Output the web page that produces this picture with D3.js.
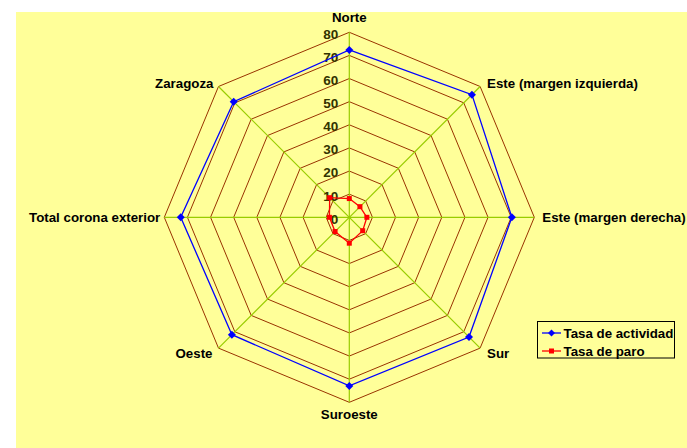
<!DOCTYPE html>
<html><head><meta charset="utf-8">
<script src="https://cdn.jsdelivr.net/npm/d3@7"></script>
<style>body{margin:0;background:#fff}svg{display:block}</style>
</head><body>
<svg id="c" width="687" height="448"></svg>
<script>
const categories = ["Norte","Este (margen izquierda)","Este (margen derecha)","Sur","Suroeste","Oeste","Total corona exterior","Zaragoza"];
const actividad = [72.4, 75.0, 70.3, 73.2, 72.9, 71.8, 72.9, 70.7];
const paro = [8.1, 6.5, 7.6, 8.2, 11.2, 8.7, 8.6, 12.0];
const tickValues = [0,10,20,30,40,50,60,70,80];
const seriesNames = ["Tasa de actividad","Tasa de paro"];

const svg = d3.select("#c");
const W = 687, H = 448;
svg.append("rect").attr("x",16).attr("y",12).attr("width",W-16).attr("height",H-12).attr("fill","#FFFF99");

const cx = 349.3, cy = 217.3, R = 185;
const r = d3.scaleLinear().domain([0,80]).range([0,R]);
const n = categories.length;
const ang = d3.scaleLinear().domain([0,n]).range([0,2*Math.PI]);
const pt = (i,v) => [cx + r(v)*Math.sin(ang(i)), cy - r(v)*Math.cos(ang(i))];
const FONT = "Liberation Sans, Arial, sans-serif";
const diamond = s => `M0,${-s}L${s},0L0,${s}L${-s},0Z`;

const g = svg.append("g");
tickValues.slice(1).forEach(t=>{
  const pts = d3.range(n).map(i=>pt(i,t));
  g.append("polygon").attr("points",pts.map(p=>p.join(",")).join(" "))
   .attr("fill","none").attr("stroke","#993300").attr("stroke-width",1);
});
d3.range(n).forEach(i=>{
  const [x,y]=pt(i,80);
  g.append("line").attr("x1",cx).attr("y1",cy).attr("x2",x).attr("y2",y)
   .attr("stroke","#99CC00").attr("stroke-width",1.2);
});
tickValues.forEach(t=>{
  g.append("text").attr("x",cx-11).attr("y",cy-r(t)+1.5).attr("dy","0.36em")
   .attr("text-anchor","end").attr("font-family",FONT)
   .attr("font-weight","bold").attr("font-size",13.5).attr("fill","#333300").text(t);
});
const labOff = [
  {a:"middle",dx:0,dy:-15},
  {a:"start",dx:7,dy:-3},
  {a:"start",dx:8,dy:0},
  {a:"start",dx:7,dy:5},
  {a:"middle",dx:0,dy:12},
  {a:"end",dx:-6,dy:5},
  {a:"end",dx:-4,dy:0},
  {a:"end",dx:-5,dy:-3}
];
categories.forEach((c,i)=>{
  const [x,y]=pt(i,80);
  g.append("text").attr("x",x+labOff[i].dx).attr("y",y+labOff[i].dy).attr("dy","0.36em")
   .attr("text-anchor",labOff[i].a).attr("font-family",FONT)
   .attr("font-weight","bold").attr("font-size",13.3).attr("fill","#000").text(c);
});
const line = d3.line();
function drawSeries(vals,color,marker){
  const pts = vals.map((v,i)=>pt(i,v));
  g.append("path").attr("d",line(pts)+"Z").attr("fill","none").attr("stroke",color).attr("stroke-width",1.3);
  pts.forEach(p=>{
    if(marker==="diamond"){
      g.append("path").attr("d",diamond(4)).attr("transform",`translate(${p[0]},${p[1]})`).attr("fill",color);
    } else {
      g.append("rect").attr("x",p[0]-2.5).attr("y",p[1]-2.5).attr("width",5).attr("height",5).attr("fill",color);
    }
  });
}
drawSeries(actividad,"#0000FF","diamond");
drawSeries(paro,"#FF0000","square");

const lg = svg.append("g");
lg.append("rect").attr("x",537.5).attr("y",321.5).attr("width",137).attr("height",36.5)
  .attr("fill","#FFFF99").attr("stroke","#000").attr("stroke-width",1);
const legColors = ["#0000FF","#FF0000"];
seriesNames.forEach((s,i)=>{
  const y = 333 + i*18;
  lg.append("line").attr("x1",542).attr("x2",561).attr("y1",y).attr("y2",y).attr("stroke",legColors[i]).attr("stroke-width",1.3);
  if(i===0) lg.append("path").attr("d",diamond(3.5)).attr("transform",`translate(551.5,${y})`).attr("fill",legColors[i]);
  else lg.append("rect").attr("x",549).attr("y",y-2.5).attr("width",5).attr("height",5).attr("fill",legColors[i]);
  lg.append("text").attr("x",563.5).attr("y",y).attr("dy","0.36em").attr("font-family",FONT)
    .attr("font-weight","bold").attr("font-size",13.3).attr("fill","#000").text(s);
});
</script>
</body></html>
